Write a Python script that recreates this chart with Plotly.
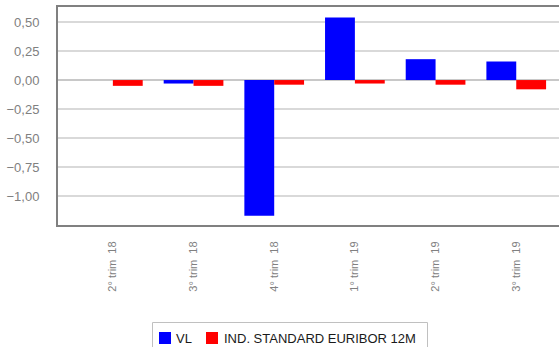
import plotly.graph_objects as go

categories = ["2° trim  18", "3° trim  18", "4° trim  18", "1° trim  19", "2° trim  19", "3° trim  19"]
series_names = ["VL", "IND. STANDARD EURIBOR 12M"]
series_colors = ["#0000ff", "#ff0000"]
vl = [0.0, -0.03, -1.17, 0.54, 0.18, 0.16]
euribor = [-0.05, -0.05, -0.04, -0.03, -0.04, -0.08]
y_ticks = [0.5, 0.25, 0.0, -0.25, -0.5, -0.75, -1.0]

W, H = 559, 347
L, R, T, B = 58, 0, 7, 122
plot_w, plot_h = W - L - R, H - T - B


def px_x(x):
    return (x - L) / plot_w


def px_y(y):
    return (H - B - y) / plot_h


fig = go.Figure()
x_idx = list(range(len(categories)))
for name, color, vals in zip(series_names, series_colors, [vl, euribor]):
    fig.add_trace(go.Bar(x=x_idx, y=vals, name=name, showlegend=False,
                         marker=dict(color=color, line=dict(width=0))))

# legend box drawn below the plot
shapes = [dict(type="rect", xref="paper", yref="paper",
               x0=px_x(152.5), x1=px_x(427.5), y0=px_y(350), y1=px_y(322.5),
               line=dict(color="#c0c0c0", width=1), fillcolor="white", layer="above")]
annotations = []
sq_x = [159, 206]
txt_x = [175, 223]
for name, color, sx, tx in zip(series_names, series_colors, sq_x, txt_x):
    shapes.append(dict(type="rect", xref="paper", yref="paper",
                       x0=px_x(sx), x1=px_x(sx + 12), y0=px_y(344), y1=px_y(332),
                       line=dict(width=0), fillcolor=color, layer="above"))
    annotations.append(dict(xref="paper", yref="paper", x=px_x(tx - 1), y=px_y(338),
                            xanchor="left", yanchor="middle", showarrow=False,
                            text=name, font=dict(size=13, color="#1a1a1a")))

fig.update_layout(
    width=W, height=H,
    margin=dict(l=L, r=R, t=T, b=B),
    paper_bgcolor="white", plot_bgcolor="white",
    barmode="group", bargap=0.26, bargroupgap=0,
    separators=",.",
    font=dict(family="Liberation Sans, Arial, sans-serif", size=12, color="#808080"),
    showlegend=False,
    shapes=shapes,
    annotations=annotations,
)
fig.update_xaxes(
    range=[-0.68, 5.53],
    tickmode="array", tickvals=x_idx, ticktext=categories,
    tickangle=-90, ticks="", showgrid=False, ticklabelstandoff=10,
    showline=True, linecolor="#808080", linewidth=2, mirror=True,
    tickfont=dict(size=11, color="#808080"),
)
fig.update_yaxes(
    range=[-1.25, 0.63],
    tickmode="array", tickvals=y_ticks, tickformat=".2f",
    showgrid=True, gridcolor="#d9d9d9", gridwidth=1.5,
    zeroline=True, zerolinecolor="#c8c8c8", zerolinewidth=2,
    showline=True, linecolor="#808080", linewidth=2,
    ticks="", ticklabelstandoff=14,
    tickfont=dict(size=13, color="#808080"),
)

fig.write_html("out.html")
